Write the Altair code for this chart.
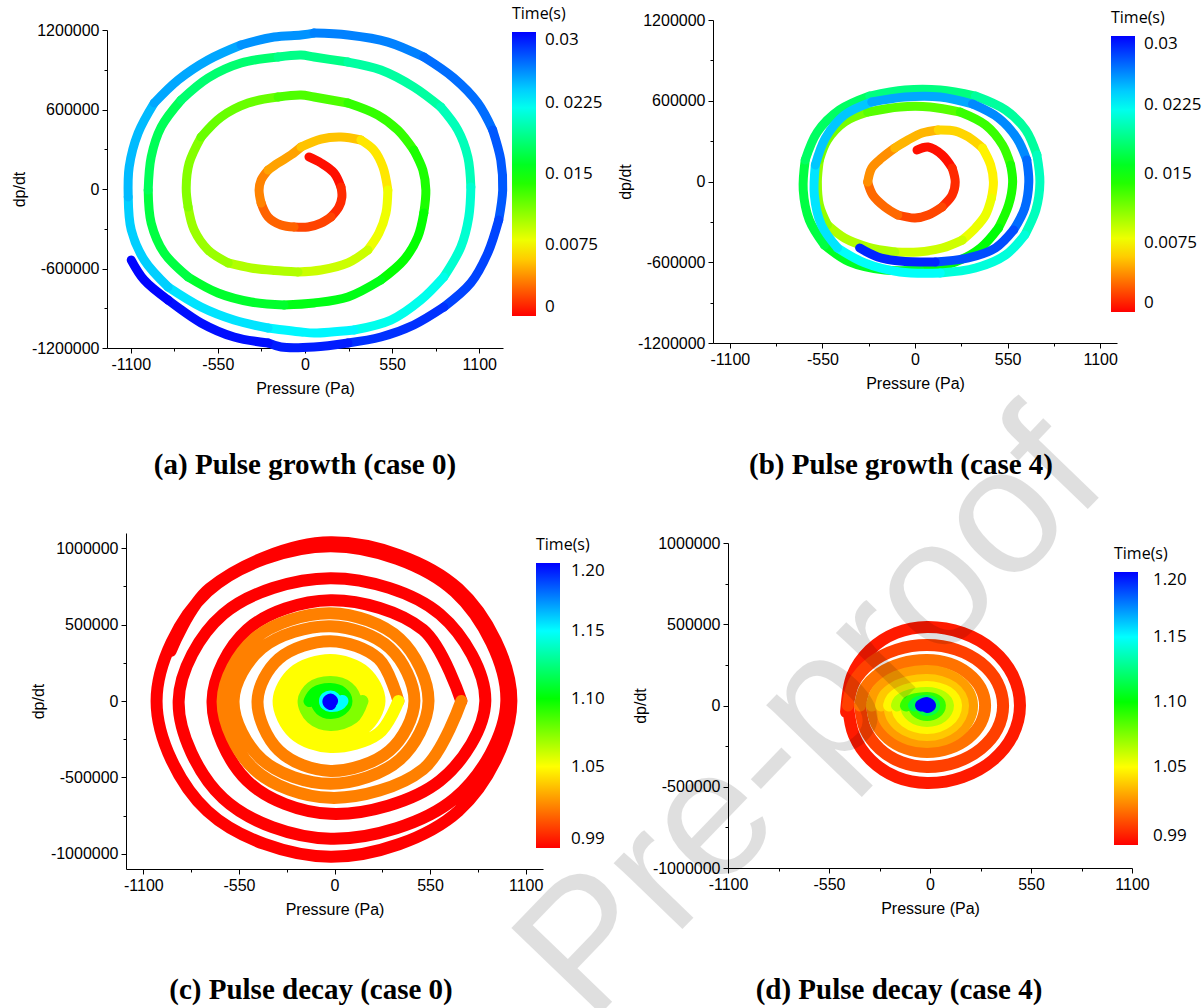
import altair as alt
import pandas as pd

# ---------------- data ----------------
# pressure in Pa, dp/dt in units of 1e3 Pa/s, time in s

# (a) pulse growth, case 0
A_P = [25, 101, 183, 227, 233, 214, 164, 101, 19, -69,
       -151, -233, -277, -290, -277, -233, -170, -88, -25, 101,
       227, 353, 435, 492, 523, 511, 467, 397, 271, 101,
       -44, -190, -340, -485, -612, -700, -738, -750, -731, -656,
       -530, -359, -170, -25, 57, 271, 460, 586, 687, 744,
       763, 750, 712, 624, 479, 271, 57, -132, -340, -549,
       -738, -889, -971, -990, -971, -908, -782, -612, -404, -170,
       -25, 57, 271, 479, 687, 857, 965, 1028, 1047, 1034,
       984, 876, 731, 542, 309, 57, -25, -233, -448, -656,
       -864, -1015, -1097, -1116, -1110, -1053, -952, -801, -612, -404,
       -195, -25, 57, 271, 523, 750, 939, 1091, 1185, 1236,
       1248, 1223, 1154, 1047, 876, 687, 479, 271, 57, -151,
       -233, -448, -656, -864, -1015, -1097]
A_D = [242, 196, 121, 15, -60, -136, -211, -257, -287, -287,
       -272, -211, -106, -8, 68, 143, 196, 257, 317, 377,
       392, 370, 294, 166, -8, -181, -332, -460, -558, -611,
       -626, -615, -596, -558, -460, -309, -136, 8, 196, 392,
       543, 649, 694, 709, 694, 649, 558, 445, 294, 143,
       -8, -181, -362, -536, -687, -815, -860, -875, -853, -785,
       -664, -483, -257, -8, 242, 468, 672, 838, 951, 996,
       1011, 996, 958, 898, 770, 619, 445, 242, 15, -211,
       -438, -664, -838, -989, -1064, -1087, -1079, -1049, -989, -891,
       -740, -536, -309, -60, 166, 423, 649, 823, 974, 1087,
       1147, 1162, 1177, 1162, 1109, 996, 838, 649, 445, 219,
       -8, -234, -483, -709, -891, -1026, -1117, -1162, -1192, -1192,
       -1162, -1117, -1011, -838, -687, -536]
A_T = [0, .0003, .0006, .0009, .0011, .0013, .0016, .0018, .0021, .0024,
       .0027, .0031, .0034, .0037, .0040, .0043, .0046, .0049, .0052, .0056,
       .0059, .0062, .0066, .0070, .0074, .0078, .0082, .0085, .0089, .0092,
       .0095, .0097, .0099, .0101, .0104, .0106, .0108, .0110, .0112, .0115,
       .0118, .0121, .0124, .0126, .0128, .0131, .0134, .0136, .0139, .0141,
       .0143, .0145, .0148, .0150, .0152, .0155, .0158, .0160, .0162, .0164,
       .0166, .0168, .0170, .0172, .0174, .0177, .0179, .0181, .0184, .0187,
       .0189, .0190, .0193, .0196, .0199, .0201, .0203, .0206, .0208, .0210,
       .0213, .0215, .0218, .0221, .0224, .0227, .0228, .0230, .0232, .0234,
       .0236, .0238, .0240, .0242, .0244, .0246, .0248, .0250, .0252, .0254,
       .0256, .0258, .0259, .0261, .0263, .0265, .0267, .0269, .0271, .0273,
       .0275, .0277, .0279, .0281, .0283, .0285, .0287, .0289, .0291, .0293,
       .0294, .0295, .0297, .0298, .0299, .0300]

# (b) pulse growth, case 4
B_P = [12, 78, 161, 221, 239, 221, 161, 78, 0, -102,
       -179, -251, -281, -257, -197, -120, -42, 42, 138, 239,
       317, 401, 449, 466, 454, 419, 359, 281, 161, 18,
       -120, -281, -419, -520, -568, -580, -568, -520, -419, -281,
       -90, 90, 269, 419, 520, 568, 580, 556, 496, 389,
       239, 30, -179, -389, -538, -628, -664, -652, -580, -449,
       -269, -60, 150, 359, 538, 658, 724, 742, 718, 652,
       538, 359, 150, -90, -299, -460, -556, -598, -592, -532,
       -419, -257, -60, 150, 341, 496, 604, 664, 676, 652,
       586, 478, 317, 120, -90, -221, -329]
B_D = [234, 256, 197, 100, -4, -100, -189, -249, -271, -249,
       -189, -100, -4, 100, 175, 249, 308, 360, 383, 375,
       331, 249, 123, -4, -123, -249, -345, -435, -494, -524,
       -524, -487, -420, -323, -175, -4, 160, 308, 442, 516,
       554, 554, 516, 420, 271, 123, -4, -175, -345, -494,
       -598, -658, -658, -598, -472, -286, -63, 160, 368, 531,
       635, 680, 680, 635, 531, 383, 197, -4, -212, -397,
       -546, -643, -680, -672, -605, -494, -323, -100, 123, 323,
       494, 591, 628, 628, 576, 472, 323, 160, -4, -197,
       -360, -494, -568, -598, -591, -561, -494]
B_T = [0, .0003, .0006, .0009, .0011, .0013, .0016, .0019, .0022, .0025,
       .0029, .0033, .0036, .0040, .0044, .0048, .0052, .0055, .0058, .0061,
       .0064, .0067, .0070, .0073, .0076, .0079, .0082, .0085, .0088, .0091,
       .0094, .0097, .0100, .0103, .0106, .0108, .0111, .0114, .0117, .0120,
       .0123, .0126, .0129, .0132, .0135, .0138, .0141, .0144, .0147, .0150,
       .0153, .0156, .0159, .0162, .0165, .0168, .0171, .0174, .0177, .0180,
       .0183, .0186, .0189, .0192, .0195, .0198, .0201, .0204, .0207, .0210,
       .0213, .0216, .0219, .0222, .0225, .0228, .0231, .0234, .0237, .0240,
       .0243, .0246, .0249, .0252, .0255, .0258, .0261, .0264, .0267, .0270,
       .0273, .0276, .0279, .0282, .0285, .0290, .0300]

# (c) pulse decay, case 0: one path per colour level
C_BAND_P = [
    [-943, -719, -23, 713, 1018, 713, -23, -731, -1024, -731, -23, 692, 989, 692, -23,
     -641, -897, -641, -23, 607, 868, 607, -23, -503, -702, -503, -23, 509, 730],
    [730, 509, -23, -462, -644, -462, -23, 376, 541, 376, -23, -418, -581, -418, -23,
     318, 460, 318, -23, -320, -443, -320, -23, 253, 368],
    [368, 253, -23, -234, -322, -234, -23, 176, 259, 176, -23, -194, -265, -194, -23,
     140, 207, 140, -23, -157, -213, -157, -23, 107, 161],
    [161, 107, -23, -133, -178, -133, -23, 79, 121, 79, -23, -109, -144],
    [-144, -109, -23, 42, 69, 42, -23, -80, -104, -80, -23, 26, 46],
    [46, 26, -23, -46, -55, -46, -23, -3, 5, -3, -23],
    [-23, -31, -35, -23, -14, -23],
]
C_BAND_D = [
    [327, 735, 1039, 735, 0, -721, -1020, -721, 0, 716, 1013, 716, 0, -638, -902,
     -638, 0, 568, 804, 568, 0, -522, -739, -522, 0, 467, 660, 467, 0],
    [0, -448, -634, -448, 0, 407, 575, 407, 0, -383, -542, -383, 0, 346, 490,
     346, 0, -324, -458, -324, 0, 277, 392, 277, 0],
    [0, -213, -301, -213, 0, 189, 268, 189, 0, -175, -248, -175, 0, 153, 216,
     153, 0, -144, -203, -144, 0, 120, 170, 120, 0],
    [0, -111, -157, -111, 0, 88, 124, 88, 0, -78, -111, -78, 0],
    [0, 55, 78, 55, 0, -55, -78, -55, 0, 37, 52, 37, 0],
    [0, -23, -33, -23, 0, 21, 30, 21, 0, -14, -20],
    [-20, -14, 0, 10, 0, 0],
]
C_BAND_T = [0.99, 1.02, 1.05, 1.075, 1.10, 1.15, 1.20]

# (d) pulse decay, case 4: one list per revolution
D_RING_P = [
    [-457, -423, -328, -185, -16, 178, 342, 451, 490, 451, 342, 178, -16, -181, -321, -414, -447],
    [-447, -414, -321, -181, -16, 143, 277, 367, 398, 367, 277, 143, -16, -156, -274, -353, -381],
    [-381, -353, -274, -156, -16, 105, 207, 276, 300, 276, 207, 105, -16, -131, -228, -293, -316],
    [-316, -293, -228, -131, -16, 78, 157, 210, 229, 210, 157, 78, -16, -112, -193, -248, -267],
    [-267, -248, -193, -112, -16, 59, 123, 165, 180, 165, 123, 59, -16, -95, -162, -207, -223],
    [-223, -207, -162, -95, -16, 45, 96, 130, 142, 130, 96, 45, -16, -79, -132, -168, -180],
    [-180, -168, -132, -79, -16, 28, 65, 89, 98, 89, 65, 28, -16, -60, -97, -122, -131],
    [-131, -122, -97, -60, -16, 11, 33, 49, 54, 49, 33, 11, -16, -43, -66, -82, -87],
    [-87, -66, -16, 11, 22, 11, -16, -39, -49],
    [-49, -16, 0, -16, -27, -16],
]
D_RING_D = [
    [-40, 185, 341, 446, 483, 446, 341, 185, 0, -183, -337, -441, -477, -441, -337, -183, 0],
    [0, 142, 263, 344, 372, 344, 263, 142, 0, -145, -267, -349, -378, -349, -267, -145, 0],
    [0, 107, 198, 259, 280, 259, 198, 107, 0, -110, -202, -264, -286, -264, -202, -110, 0],
    [0, 81, 150, 196, 212, 196, 150, 81, 0, -86, -159, -208, -225, -208, -159, -86, 0],
    [0, 60, 111, 145, 157, 145, 111, 60, 0, -70, -129, -168, -182, -168, -129, -70, 0],
    [0, 44, 81, 105, 114, 105, 81, 44, 0, -53, -98, -128, -138, -128, -98, -53, 0],
    [0, 29, 54, 71, 77, 71, 54, 29, 0, -36, -67, -88, -95, -88, -67, -36, 0],
    [0, 18, 33, 42, 46, 42, 33, 18, 0, -22, -41, -54, -58, -54, -41, -22, 0],
    [0, 20, 28, 20, 0, -20, -28, -20, 0],
    [0, 15, 0, -9, 0, 0],
]
D_RING_T = [0.996, 1.005, 1.017, 1.027, 1.037, 1.048, 1.065, 1.09, 1.115, 1.20]

# axis ticks, colour bars and labels
X_TICKS = [-1100, -825, -550, -275, 0, 275, 550, 825, 1100]
Y_TICKS_GROWTH = [-1200000, -900000, -600000, -300000, 0, 300000, 600000, 900000, 1200000]
Y_TICKS_DECAY = [-1000000, -750000, -500000, -250000, 0, 250000, 500000, 750000, 1000000]
GROWTH_LEVELS = [0, 0.0075, 0.015, 0.0225, 0.03]
DECAY_LEVELS = [0.99, 1.05, 1.10, 1.15, 1.20]
LEVEL_COLORS = ["#ff0000", "#ffff00", "#00ff00", "#00ffff", "#0000ff"]
CAPTIONS = ["(a) Pulse growth (case 0)", "(b) Pulse growth (case 4)",
            "(c) Pulse decay (case 0)", "(d) Pulse decay (case 4)"]
WATERMARK = "Pre-proof"

K = 1000  # dp/dt lists are stored in thousands
W, H = 1202, 1008  # whole figure; every panel gets its own pixel box inside it


# ---------------- helpers ----------------
def runs(P, D, T, size=3):
    """Split one trajectory into short consecutive runs (shared end points),
    each coloured by the mean time of its points."""
    rows, k, start, n = [], 0, 0, len(P)
    while start < n - 1:
        end = min(start + size, n - 1)
        t = sum(T[start:end + 1]) / (end - start + 1)
        for i in range(start, end + 1):
            rows.append({"band": f"r{k:03d}", "i": i, "p": P[i], "d": D[i] * K, "t": t})
        start, k = end, k + 1
    return pd.DataFrame(rows)


def bands(bp, bd, bt):
    rows = []
    for b, (ps, ds, t) in enumerate(zip(bp, bd, bt)):
        for i, (p, d) in enumerate(zip(ps, ds)):
            rows.append({"band": f"r{b:03d}", "i": i, "p": p, "d": d * K, "t": t})
    return pd.DataFrame(rows)


def tick_size(major):
    return {"condition": {"test": f"abs(datum.value) % {major} == 0", "value": 5}, "value": 3}


def x_enc(dom, left, right, bottom):
    return alt.X("p:Q", scale=alt.Scale(domain=dom, range=[left, right], nice=False, zero=False),
                 axis=alt.Axis(title="Pressure (Pa)", values=X_TICKS, orient="bottom",
                               offset=bottom - H,
                               labelExpr="abs(datum.value) % 550 == 0 ? '' + datum.value : ''",
                               tickSize=tick_size(550), labelFlush=False, labelOverlap=False,
                               grid=False, labelPadding=3, titlePadding=8))


def y_enc(dom, top, bottom, left, ticks, major):
    return alt.Y("d:Q", scale=alt.Scale(domain=dom, range=[bottom, top], nice=False, zero=False),
                 axis=alt.Axis(title="dp/dt", values=ticks, orient="left", offset=-left,
                               labelExpr=f"abs(datum.value) % {major} == 0 ? '' + datum.value : ''",
                               tickSize=tick_size(major), labelFlush=False, labelOverlap=False,
                               grid=False, labelPadding=3, titlePadding=4))


GROWTH_LABELS = ("datum.value == 0 ? '0' : datum.value < 0.01 ? '0.0075' : "
                 "datum.value < 0.02 ? '0. 015' : datum.value < 0.026 ? '0. 0225' : '0.03'")
DECAY_LABELS = "format(datum.value, '.2f')"


def color_enc(levels, lx, ly, length, label_expr, offset):
    return alt.Color("t:Q",
                     scale=alt.Scale(domain=levels, range=LEVEL_COLORS, interpolate="rgb"),
                     legend=alt.Legend(title="Time(s)", orient="none", legendX=lx, legendY=ly,
                                       direction="vertical", gradientLength=length,
                                       gradientThickness=24, gradientStrokeWidth=0,
                                       values=levels, labelExpr=label_expr, labelOffset=offset,
                                       titlePadding=10, padding=0))


def path(frame, width):
    return alt.Chart(frame).mark_line(interpolate="catmull-rom", strokeWidth=width,
                                      strokeCap="round", strokeJoin="round")


def caption(text, x, y):
    return alt.Chart(pd.DataFrame({"label": [text]})).mark_text(
        font="Liberation Serif", fontWeight="bold", fontSize=29, color="black",
        align="center", baseline="middle").encode(x=alt.value(x), y=alt.value(y), text="label:N")


# ---------------- panels (pixel boxes: left, right, top, bottom) ----------------
GROWTH_Y = [-1200000, 1200000]

a_path = path(runs(A_P, A_D, A_T), 9).encode(
    x=x_enc([-1250, 1250], 107, 503, 348),
    y=y_enc(GROWTH_Y, 30, 348, 107, Y_TICKS_GROWTH, 600000),
    color=color_enc(GROWTH_LEVELS, 512, 6, 284, GROWTH_LABELS, 9),
    detail="band:N", order="i:Q")
panel_a = alt.layer(a_path, caption(CAPTIONS[0], 305, 465))

b_path = path(runs(B_P, B_D, B_T), 9).encode(
    x=x_enc([-1200, 1200], 713, 1117, 343),
    y=y_enc(GROWTH_Y, 20, 343, 713, Y_TICKS_GROWTH, 600000),
    color=color_enc(GROWTH_LEVELS, 1111, 10, 276, GROWTH_LABELS, 9),
    detail="band:N", order="i:Q")
panel_b = alt.layer(b_path, caption(CAPTIONS[1], 901, 465))

c_path = path(bands(C_BAND_P, C_BAND_D, C_BAND_T), 12).encode(
    x=x_enc([-1200, 1200], 126, 543, 869),
    y=y_enc([-1100000, 1100000], 533, 869, 126, Y_TICKS_DECAY, 500000),
    color=color_enc(DECAY_LEVELS, 536, 537, 285, DECAY_LABELS, 11),
    detail="band:N", order="i:Q")
panel_c = alt.layer(c_path, caption(CAPTIONS[2], 311, 990))

d_path = path(bands(D_RING_P, D_RING_D, D_RING_T), 12).encode(
    x=x_enc([-1100, 1100], 728, 1132, 868),
    y=y_enc([-1000000, 1000000], 543, 868, 728, Y_TICKS_DECAY, 500000),
    color=color_enc(DECAY_LEVELS, 1114, 546, 273, DECAY_LABELS, 15),
    detail="band:N", order="i:Q")
watermark = alt.Chart(pd.DataFrame({"w": [WATERMARK]})).mark_text(
    font="Liberation Sans", fontSize=180, angle=314, color="black", opacity=0.12,
    align="center", baseline="middle").encode(x=alt.value(812), y=alt.value(717), text="w:N")
panel_d = alt.layer(d_path, caption(CAPTIONS[3], 899, 990), watermark)

chart = alt.layer(panel_a, panel_b, panel_c, panel_d).resolve_scale(
    x="independent", y="independent", color="independent"
).resolve_axis(x="independent", y="independent").resolve_legend(
    color="independent"
).properties(
    width=W, height=H, padding=0, autosize=alt.AutoSizeParams(type="none")
).configure_view(
    stroke="transparent"
).configure_axis(
    labelFont="Liberation Sans", labelFontSize=16, labelColor="black",
    titleFont="Liberation Sans", titleFontSize=16, titleFontWeight="normal", titleColor="black",
    domainColor="black", tickColor="black", domainWidth=1, tickWidth=1
).configure_legend(
    titleFont="Open Sans", titleFontSize=16, titleFontWeight="normal", titleColor="black",
    labelFont="Open Sans", labelFontSize=17, labelColor="black"
)

chart.save("out.html", embed_options={"renderer": "svg", "actions": False})
